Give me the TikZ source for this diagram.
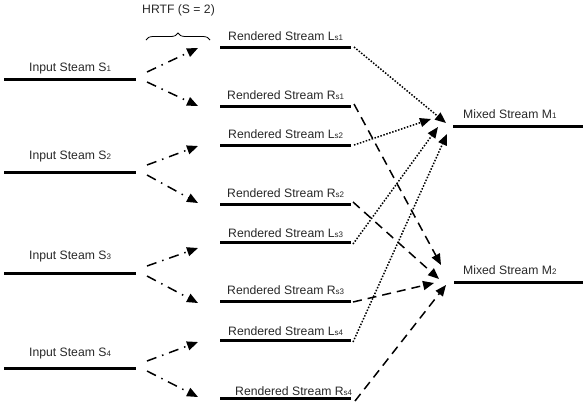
\documentclass[tikz,border=0pt]{standalone}
\usepackage{fontspec}
\setmainfont{Liberation Sans}
\usetikzlibrary{arrows.meta,decorations.pathreplacing}
\definecolor{txt}{RGB}{40,40,40}
\newcommand{\sbs}[1]{\raisebox{-0.6pt}{\fontsize{8}{8}\selectfont #1}}
\tikzset{
  lbl/.style={anchor=base west,inner sep=0pt,text=txt,font=\fontsize{12.2}{14}\selectfont},
  streamline/.style={line width=3pt},
  hrtf/.style={line width=1.5pt,dash pattern=on 10pt off 6pt on 1.5pt off 6pt,-{Triangle[length=11pt,width=9pt]}},
  leftmix/.style={line width=1.5pt,dash pattern=on 1.5pt off 1.6pt,-{Triangle[length=11pt,width=9pt]}},
  rightmix/.style={line width=1.5pt,dash pattern=on 9pt off 6pt,-{Triangle[length=11pt,width=9pt]}},
}
\begin{document}
\begin{tikzpicture}[x=1pt,y=-1pt]
\useasboundingbox (0,0) rectangle (583,405);
% HRTF brace
\node[lbl] (hrtflbl) at (142,13) {HRTF (S = 2)};
\draw[line width=0.8pt,decorate,decoration={brace,amplitude=7pt}] (146,40) -- (210,40);
% input streams
\foreach \n/\y/\t in {1/79/71, 2/172/159, 3/273/259, 4/368/356}{
  \coordinate (s\n a) at (4,\y);
  \coordinate (s\n b) at (136,\y);
  \draw[streamline] (s\n a) -- (s\n b);
  \node[lbl] (s\n lbl) at (29,\t) {Input Steam S\sbs{\n}};
}
% rendered streams
\foreach \n/\ly/\lt/\ry/\rt/\rx in {1/47/40/106/99/227, 2/145/138/204/197/227, 3/242/237/301/294/227, 4/340/335/398/395/235}{
  \coordinate (l\n a) at (220,\ly);
  \coordinate (l\n b) at (351,\ly);
  \coordinate (r\n a) at (220,\ry);
  \coordinate (r\n b) at (351,\ry);
  \draw[streamline] (l\n a) -- (l\n b);
  \draw[streamline] (r\n a) -- (r\n b);
  \node[lbl] (l\n lbl) at (228,\lt) {Rendered Stream L\sbs{s\n}};
  \node[lbl] (r\n lbl) at (\rx,\rt) {Rendered Stream R\sbs{s\n}};
}
% mixed streams
\coordinate (m1a) at (453,126); \coordinate (m1b) at (583,126);
\coordinate (m2a) at (454,282); \coordinate (m2b) at (583,282);
\draw[streamline] (m1a) -- (m1b);
\draw[streamline] (m2a) -- (m2b);
\node[lbl] (m1lbl) at (463,118) {Mixed Stream M\sbs{1}};
\node[lbl] (m2lbl) at (463,274) {Mixed Stream M\sbs{2}};
% HRTF arrows
\foreach \n/\y/\ut/\dt in {1/79/48/106, 2/172/146/203, 3/273/248/303, 4/368/342/397}{
  \coordinate (s\n u) at (147,\y-7);
  \coordinate (s\n d) at (147,\y+3);
  \coordinate (t\n u) at (198,\ut);
  \coordinate (t\n d) at (198,\dt);
  \draw[hrtf] (s\n u) -- (t\n u);
  \draw[hrtf] (s\n d) -- (t\n d);
}
% mix targets
\coordinate (p1) at (446,123);
\coordinate (p2) at (431,119);
\coordinate (p3) at (438,127);
\coordinate (p4) at (447,134);
\coordinate (q1) at (441,265);
\coordinate (q2) at (439,279);
\coordinate (q3) at (434,283);
\coordinate (q4) at (446,285);
\draw[leftmix] ([xshift=3pt]l1b) -- (p1);
\draw[leftmix] ([xshift=3pt]l2b) -- (p2);
\draw[leftmix] ([xshift=2pt,yshift=-2pt]l3b) -- (p3);
\draw[leftmix] ([xshift=2pt,yshift=-2pt]l4b) -- (p4);
\draw[rightmix] ([xshift=3pt,yshift=2pt]r1b) -- (q1);
\draw[rightmix] ([xshift=2pt,yshift=2pt]r2b) -- (q2);
\draw[rightmix] ([xshift=2pt,yshift=-1pt]r3b) -- (q3);
\draw[rightmix] ([xshift=4pt,yshift=-3pt]r4b) -- (q4);
\end{tikzpicture}
\end{document}
